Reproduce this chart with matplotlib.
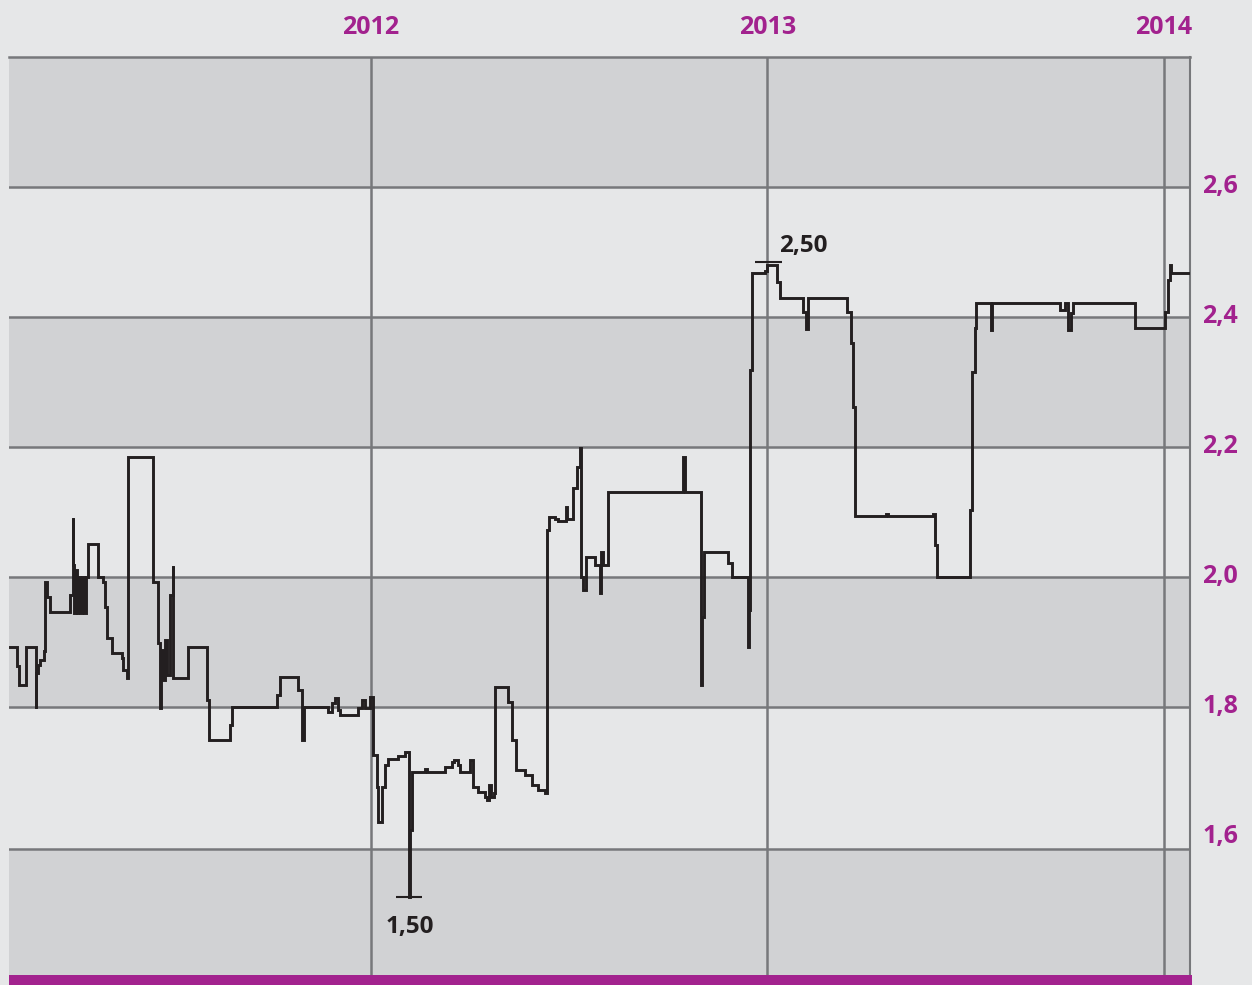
import numpy as np
import matplotlib
matplotlib.use("Agg")
import matplotlib.pyplot as plt
import matplotlib.transforms as mtransforms
from matplotlib.patches import Rectangle

# step series, x in decimal years
years = [
    2011.090, 2011.106, 2011.112, 2011.129, 2011.154, 2011.156, 2011.161, 2011.165,
    2011.176, 2011.178, 2011.183, 2011.190, 2011.241, 2011.248, 2011.249, 2011.252,
    2011.255, 2011.258, 2011.261, 2011.266, 2011.271, 2011.276, 2011.281, 2011.286,
    2011.312, 2011.324, 2011.329, 2011.333, 2011.346, 2011.371, 2011.375, 2011.384,
    2011.386, 2011.388, 2011.449, 2011.464, 2011.468, 2011.470, 2011.475, 2011.480,
    2011.485, 2011.493, 2011.500, 2011.501, 2011.539, 2011.586, 2011.591, 2011.644,
    2011.649, 2011.762, 2011.770, 2011.816, 2011.825, 2011.831, 2011.892, 2011.901,
    2011.909, 2011.917, 2011.922, 2011.967, 2011.977, 2011.985, 2011.997, 2012.005,
    2012.014, 2012.017, 2012.027, 2012.035, 2012.042, 2012.069, 2012.086, 2012.097,
    2012.098, 2012.103, 2012.136, 2012.141, 2012.187, 2012.204, 2012.209, 2012.219,
    2012.224, 2012.250, 2012.257, 2012.270, 2012.288, 2012.292, 2012.298, 2012.304,
    2012.310, 2012.313, 2012.346, 2012.355, 2012.367, 2012.388, 2012.405, 2012.421,
    2012.439, 2012.443, 2012.450, 2012.464, 2012.472, 2012.492, 2012.494, 2012.509,
    2012.521, 2012.527, 2012.529, 2012.535, 2012.542, 2012.565, 2012.579, 2012.581,
    2012.585, 2012.598, 2012.788, 2012.792, 2012.832, 2012.836, 2012.839, 2012.901,
    2012.910, 2012.952, 2012.954, 2012.956, 2012.960, 2012.994, 2012.999, 2013.025,
    2013.032, 2013.090, 2013.097, 2013.102, 2013.201, 2013.210, 2013.216, 2013.221,
    2013.299, 2013.304, 2013.417, 2013.422, 2013.427, 2013.512, 2013.517, 2013.523,
    2013.526, 2013.565, 2013.567, 2013.738, 2013.750, 2013.759, 2013.765, 2013.771,
    2013.927, 2014.003, 2014.011, 2014.015, 2014.019, 2014.061,
]
values = [
    1.892, 1.863, 1.834, 1.892, 1.798, 1.852, 1.865, 1.872,
    1.886, 1.992, 1.969, 1.946, 1.972, 2.091, 2.018, 1.945,
    2.011, 1.945, 2.000, 1.945, 2.000, 1.945, 2.000, 2.051,
    2.000, 1.992, 1.954, 1.906, 1.883, 1.875, 1.857, 1.845,
    2.011, 2.185, 1.992, 1.898, 1.798, 1.888, 1.842, 1.903,
    1.849, 1.972, 2.017, 1.845, 1.892, 1.811, 1.749, 1.772,
    1.800, 1.818, 1.846, 1.826, 1.749, 1.800, 1.792, 1.806,
    1.814, 1.795, 1.788, 1.798, 1.811, 1.798, 1.815, 1.726,
    1.677, 1.623, 1.677, 1.711, 1.720, 1.725, 1.731, 1.508,
    1.611, 1.700, 1.705, 1.700, 1.708, 1.715, 1.718, 1.711,
    1.700, 1.718, 1.677, 1.669, 1.662, 1.657, 1.680, 1.662,
    1.668, 1.831, 1.808, 1.749, 1.703, 1.695, 1.680, 1.672,
    1.668, 2.072, 2.092, 2.089, 2.086, 2.108, 2.089, 2.137,
    2.169, 2.198, 2.000, 1.980, 2.031, 2.018, 1.975, 2.038,
    2.018, 2.131, 2.185, 2.131, 1.834, 1.938, 2.039, 2.022,
    2.000, 1.892, 1.949, 2.318, 2.468, 2.471, 2.480, 2.454,
    2.429, 2.408, 2.382, 2.429, 2.408, 2.360, 2.262, 2.094,
    2.097, 2.094, 2.097, 2.049, 2.000, 2.103, 2.315, 2.383,
    2.422, 2.380, 2.422, 2.411, 2.422, 2.380, 2.406, 2.422,
    2.383, 2.408, 2.457, 2.480, 2.468, 2.468,
]

year_ticks = [2012, 2013, 2014]
year_labels = ["2012", "2013", "2014"]
value_ticks = [2.6, 2.4, 2.2, 2.0, 1.8, 1.6]
value_labels = ["2,6", "2,4", "2,2", "2,0", "1,8", "1,6"]
# band edges (the lowest grid line sits a bit below 1,6 in the original)
band_edges = [2.8, 2.6, 2.4, 2.2, 2.0, 1.8, 1.5815, 1.3877]
max_label = "2,50"
min_label = "1,50"

# colours
BG_LIGHT = "#e6e7e8"
BG_DARK = "#d1d2d4"
GRID = "#77787b"
MAGENTA = "#a2228e"
INK = "#231f20"
FONT = ["Open Sans", "DejaVu Sans"]

W, H = 1252, 985
fig = plt.figure(figsize=(W / 100, H / 100), dpi=100, facecolor=BG_LIGHT)
ax = fig.add_axes([9 / W, 10 / H, 1181 / W, 918 / H])
ax.set_facecolor(BG_LIGHT)

x = np.array(years)
y = np.array(values)

# alternating bands, darkest on top
for i in range(len(band_edges) - 1):
    if i % 2 == 0:
        ax.axhspan(band_edges[i + 1], band_edges[i], color=BG_DARK, lw=0, zorder=0)
for e in band_edges[1:-1]:
    ax.axhline(e, color=GRID, lw=1.8, zorder=1)
for t in year_ticks:
    ax.axvline(t, color=GRID, lw=1.8, zorder=1)

ax.plot(x, y, drawstyle="steps-post", color=INK, lw=2.1, zorder=3,
        solid_joinstyle="miter")

# max / min markers
imax = int(np.argmax(y))
imin = int(np.argmin(y))
ax.hlines(y[imax] + 0.004, x[imax] - 0.031, x[imax] + 0.037, color=INK, lw=1.5, zorder=3)
ax.hlines(y[imin], x[imin] - 0.033, x[imin] + 0.033, color=INK, lw=1.5, zorder=3)
ax.annotate(max_label, (x[imax], y[imax]), xytext=(9, 14), textcoords="offset points",
            ha="left", va="center", fontsize=17.5, fontweight="bold", color=INK, family=FONT)
ax.annotate(min_label, (x[imin], y[imin]), xytext=(0, -22), textcoords="offset points",
            ha="center", va="center", fontsize=17.5, fontweight="bold", color=INK, family=FONT)

ax.set_xlim(2011.087, 2014.066)
ax.set_ylim(band_edges[-1], band_edges[0])

ax.xaxis.tick_top()
ax.set_xticks(year_ticks)
ax.set_xticklabels(year_labels)
ax.yaxis.tick_right()
ax.set_yticks(value_ticks)
ax.set_yticklabels(value_labels)
ax.tick_params(axis="x", length=0, pad=12, labelcolor=MAGENTA)
ax.tick_params(axis="y", length=0, pad=9, labelcolor=MAGENTA)
lift = mtransforms.ScaledTranslation(0, 4 / 100, fig.dpi_scale_trans)
for lab in ax.get_xticklabels() + ax.get_yticklabels():
    lab.set_family(FONT)
    lab.set_fontsize(18)
    lab.set_fontweight("bold")
for lab in ax.get_yticklabels():
    lab.set_transform(lab.get_transform() + lift)

for s in ["left", "bottom"]:
    ax.spines[s].set_visible(False)
ax.spines["top"].set_color(GRID)
ax.spines["top"].set_linewidth(1.8)
ax.spines["right"].set_color(GRID)
ax.spines["right"].set_linewidth(1.5)

# purple baseline bar
fig.patches.append(Rectangle((9 / W, 0), 1183 / W, 10 / H, transform=fig.transFigure,
                             facecolor=MAGENTA, edgecolor="none"))

fig.savefig("out.png", dpi=100, facecolor=BG_LIGHT)
